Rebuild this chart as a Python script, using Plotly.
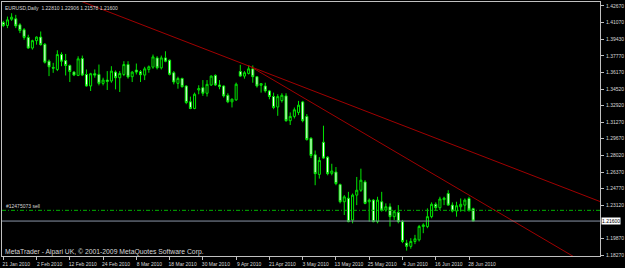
import plotly.graph_objects as go
import pandas as pd

# ---- data (EURUSD daily, 21 Jan 2010 .. 29 Jun 2010) ----
opens = [1.4105, 1.4076, 1.4137, 1.4141, 1.4082, 1.4034, 1.3959, 1.3855, 1.3927, 1.3962,
         1.3891, 1.3726, 1.3665, 1.3645, 1.3791, 1.3732, 1.3684, 1.3619, 1.3587, 1.3752,
         1.3596, 1.3483, 1.3603, 1.3596, 1.3509, 1.3541, 1.3532, 1.3619, 1.3564, 1.3596,
         1.3694, 1.3574, 1.3639, 1.3622, 1.3590, 1.3645, 1.3668, 1.3758, 1.3661, 1.3758,
         1.3736, 1.3613, 1.3509, 1.3557, 1.3483, 1.3328, 1.3263, 1.3444, 1.3467, 1.3412,
         1.3493, 1.3587, 1.3493, 1.3483, 1.3392, 1.3328, 1.3347, 1.3625, 1.3580, 1.3606,
         1.3651, 1.3574, 1.3490, 1.3483, 1.3435, 1.3380, 1.3277, 1.3340, 1.3386, 1.3143,
         1.3185, 1.3224, 1.3327, 1.3185, 1.2971, 1.2809, 1.2617, 1.2932, 1.2786, 1.2627,
         1.2640, 1.2517, 1.2349, 1.2384, 1.2170, 1.2414, 1.2462, 1.2543, 1.2349, 1.2365,
         1.2154, 1.2349, 1.2268, 1.2300, 1.2203, 1.2245, 1.2154, 1.1944, 1.1912, 1.1960,
         1.1976, 1.2106, 1.2106, 1.2203, 1.2324, 1.2291, 1.2370, 1.2430, 1.2316, 1.2258,
         1.2300, 1.2316, 1.2381, 1.22810]
highs = [1.4121, 1.4163, 1.4196, 1.4180, 1.4098, 1.4050, 1.3985, 1.3936, 1.3969, 1.4017,
         1.3904, 1.3742, 1.3710, 1.3833, 1.3813, 1.3797, 1.3693, 1.3629, 1.3774, 1.3781,
         1.3645, 1.3612, 1.3645, 1.3693, 1.3564, 1.3629, 1.3677, 1.3635, 1.3629, 1.3726,
         1.3726, 1.3629, 1.3703, 1.3639, 1.3671, 1.3684, 1.3791, 1.3775, 1.3781, 1.3823,
         1.3742, 1.3629, 1.3574, 1.3564, 1.3490, 1.3379, 1.3418, 1.3490, 1.3541, 1.3541,
         1.3587, 1.3597, 1.3541, 1.3490, 1.3412, 1.3360, 1.3516, 1.3690, 1.3629, 1.3684,
         1.3684, 1.3580, 1.3509, 1.3515, 1.3444, 1.3418, 1.3402, 1.3412, 1.3412, 1.3224,
         1.3272, 1.3337, 1.3337, 1.3208, 1.2981, 1.2851, 1.2786, 1.3094, 1.2796, 1.2721,
         1.2689, 1.2527, 1.2414, 1.2446, 1.2430, 1.2592, 1.2673, 1.2560, 1.2381, 1.2376,
         1.2398, 1.2446, 1.2333, 1.2333, 1.2268, 1.2316, 1.2171, 1.1976, 1.1992, 1.2025,
         1.2122, 1.2138, 1.2284, 1.2343, 1.2343, 1.2398, 1.2398, 1.2462, 1.2343, 1.2349,
         1.2381, 1.2381, 1.2398, 1.22906]
lows = [1.4060, 1.4050, 1.4121, 1.4050, 1.4001, 1.3936, 1.3846, 1.3839, 1.3888, 1.3878,
        1.3703, 1.3580, 1.3612, 1.3629, 1.3677, 1.3586, 1.3522, 1.3580, 1.3580, 1.3580,
        1.3476, 1.3434, 1.3564, 1.3489, 1.3489, 1.3444, 1.3515, 1.3450, 1.3424, 1.3580,
        1.3555, 1.3522, 1.3596, 1.3522, 1.3541, 1.3613, 1.3652, 1.3645, 1.3645, 1.3716,
        1.3587, 1.3499, 1.3457, 1.3467, 1.3305, 1.3256, 1.3256, 1.3402, 1.3386, 1.3380,
        1.3483, 1.3483, 1.3451, 1.3370, 1.3315, 1.3273, 1.3338, 1.3573, 1.3555, 1.3596,
        1.3515, 1.3467, 1.3418, 1.3418, 1.3353, 1.3256, 1.3191, 1.3321, 1.3133, 1.3101,
        1.3165, 1.3198, 1.3127, 1.2948, 1.2777, 1.2511, 1.2576, 1.2770, 1.2608, 1.2608,
        1.2511, 1.2333, 1.2219, 1.2148, 1.2138, 1.2316, 1.2446, 1.2324, 1.2154, 1.2148,
        1.2138, 1.2252, 1.2252, 1.2106, 1.2171, 1.2138, 1.1944, 1.1870, 1.1889, 1.1934,
        1.1960, 1.2041, 1.2090, 1.2187, 1.2258, 1.2268, 1.2316, 1.2310, 1.2245, 1.2203,
        1.2252, 1.2252, 1.2252, 1.21578]
closes = [1.4076, 1.4131, 1.4157, 1.4072, 1.4027, 1.3959, 1.3855, 1.3927, 1.3962, 1.3888,
          1.3716, 1.3671, 1.3658, 1.3791, 1.3726, 1.3684, 1.3625, 1.3590, 1.3749, 1.3590,
          1.3483, 1.3603, 1.3590, 1.3509, 1.3541, 1.3528, 1.3629, 1.3564, 1.3606, 1.3693,
          1.3571, 1.3619, 1.3619, 1.3593, 1.3651, 1.3671, 1.3768, 1.3661, 1.3758, 1.3726,
          1.3597, 1.3522, 1.3557, 1.3476, 1.3321, 1.3263, 1.3402, 1.3457, 1.3412, 1.3499,
          1.3580, 1.3493, 1.3477, 1.3386, 1.3328, 1.3354, 1.3500, 1.3580, 1.3613, 1.3651,
          1.3574, 1.3483, 1.3506, 1.3435, 1.3380, 1.3273, 1.3379, 1.3392, 1.3143, 1.3185,
          1.3250, 1.3295, 1.3143, 1.2958, 1.2802, 1.2624, 1.2754, 1.2777, 1.2624, 1.2650,
          1.2527, 1.2349, 1.2397, 1.2154, 1.2414, 1.2462, 1.2560, 1.2333, 1.2365, 1.2154,
          1.2365, 1.2268, 1.2300, 1.2203, 1.2252, 1.2154, 1.1960, 1.1912, 1.1960, 1.1986,
          1.2106, 1.2122, 1.2203, 1.2324, 1.2291, 1.2376, 1.2384, 1.2316, 1.2258, 1.2310,
          1.2324, 1.2365, 1.2268, 1.21600]

dates = pd.bdate_range("2010-01-21", periods=len(opens))
bar_idx = list(range(len(opens)))
date_tick_idx = list(range(0, len(opens), 8))
date_tick_text = [f"{dates[i].day} {dates[i].strftime('%b %Y')}" for i in date_tick_idx]

price_ticks = [1.42670, 1.41070, 1.39430, 1.37770, 1.36170, 1.34520, 1.32920, 1.31270,
               1.29670, 1.28020, 1.26370, 1.24770, 1.23120, 1.19870, 1.18270]
price_tick_text = [f"{p:.5f}" for p in price_ticks]

bid_price = 1.21600
order_price = 1.2265
order_label = "#12475073 sell"

trend1_x = [10, 150]
trend1_y = [1.4450, 1.2249]
trend2_x = [59, 150]
trend2_y = [1.3684, 1.1504]

header = (f"EURUSD,Daily  {opens[-1]:.5f} {highs[-1]:.5f} "
          f"{lows[-1]:.5f} {closes[-1]:.5f}")
copyright_txt = "MetaTrader - Alpari UK, \u00a9 2001-2009 MetaQuotes Software Corp."

FONT = "Liberation Sans, Arial, sans-serif"
FG = "#d8d8d8"
AXIS = "#c0c0c0"

fig = go.Figure()

fig.add_trace(go.Candlestick(
    x=bar_idx, open=opens, high=highs, low=lows, close=closes,
    increasing=dict(line=dict(color="#00e600", width=1), fillcolor="#000000"),
    decreasing=dict(line=dict(color="#00e600", width=1), fillcolor="#ffffff"),
    whiskerwidth=0, hoverinfo="skip", showlegend=False,
))

for tx, ty in ((trend1_x, trend1_y), (trend2_x, trend2_y)):
    fig.add_trace(go.Scatter(x=tx, y=ty, mode="lines",
                             line=dict(color="#a00000", width=1),
                             hoverinfo="skip", showlegend=False))

# order level and bid line
fig.add_shape(type="line", xref="paper", x0=0, x1=1, yref="y",
              y0=order_price, y1=order_price,
              line=dict(color="#00b000", width=1, dash="4px,2px,1px,2px"))
fig.add_shape(type="line", xref="paper", x0=0, x1=1, yref="y",
              y0=bid_price, y1=bid_price,
              line=dict(color="#8a96a8", width=1))

fig.add_annotation(xref="paper", yref="y", x=0.004, y=order_price,
                   text=order_label, showarrow=False, xanchor="left",
                   yanchor="bottom", yshift=-1,
                   font=dict(family=FONT, size=5, color=FG))
fig.add_annotation(xref="paper", yref="y", x=1, y=bid_price,
                   text=f"{bid_price:.5f}", showarrow=False, xanchor="left",
                   yanchor="middle", xshift=1, bgcolor="#ffffff", borderpad=0,
                   font=dict(family=FONT, size=5, color="#000000"))
fig.add_annotation(xref="paper", yref="paper", x=0.002, y=1,
                   text=header, showarrow=False, xanchor="left",
                   yanchor="top", yshift=-1,
                   font=dict(family=FONT, size=5, color=FG))
fig.add_annotation(xref="paper", yref="paper", x=0.001, y=0,
                   text=copyright_txt, showarrow=False, xanchor="left",
                   yanchor="bottom", yshift=-2,
                   font=dict(family=FONT, size=6.8, color=FG))

fig.update_layout(
    width=625, height=268,
    margin=dict(l=1, r=20, t=2, b=10),
    paper_bgcolor="#000000", plot_bgcolor="#000000",
    showlegend=False,
    xaxis=dict(range=[-0.31, 143.5], rangeslider=dict(visible=False),
               tickmode="array", tickvals=date_tick_idx, ticktext=date_tick_text,
               ticks="outside", ticklen=3, tickcolor=AXIS, tickwidth=1,
               ticklabelshift=13, ticklabelstandoff=0,
               showgrid=False, zeroline=False, showline=True, linecolor=AXIS,
               linewidth=1, mirror=True,
               tickfont=dict(family=FONT, size=5, color=FG)),
    yaxis=dict(range=[1.18176, 1.43059], side="right",
               tickmode="array", tickvals=price_ticks, ticktext=price_tick_text,
               ticks="outside", ticklen=3, tickcolor=AXIS, tickwidth=1,
               ticklabelstandoff=1,
               showgrid=False, zeroline=False, showline=True, linecolor=AXIS,
               linewidth=1, mirror=True,
               tickfont=dict(family=FONT, size=5, color=FG)),
)

fig.write_html("out.html")
